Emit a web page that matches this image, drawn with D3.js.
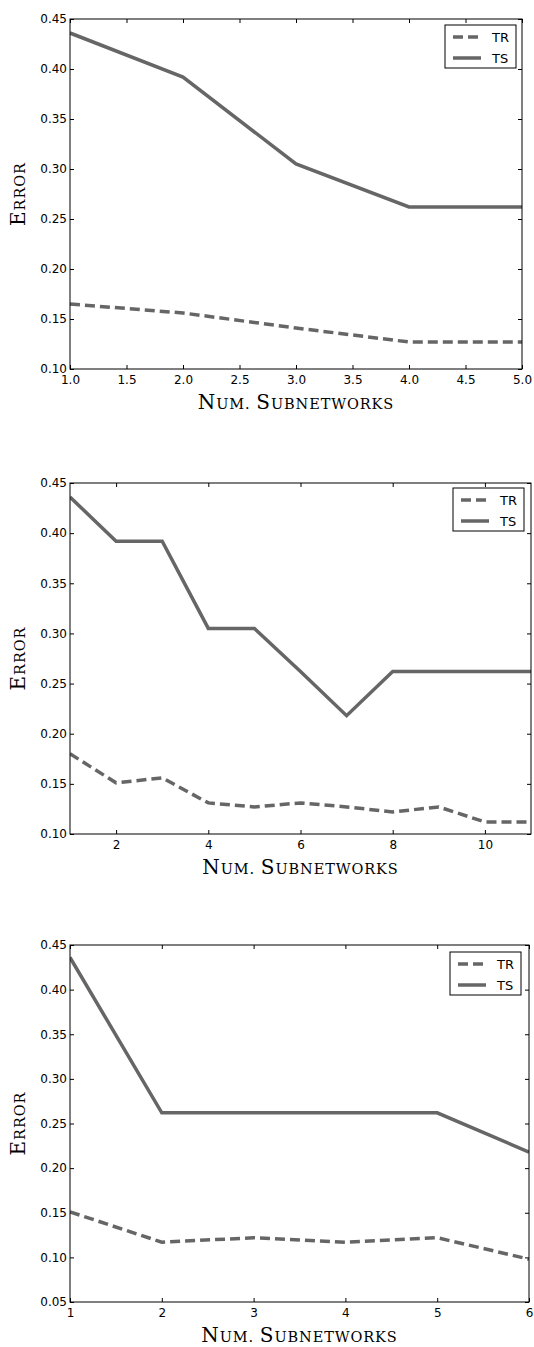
<!DOCTYPE html>
<html>
<head>
<meta charset="utf-8">
<script src="https://cdn.jsdelivr.net/npm/d3@7"></script>
<style>
  body { margin: 0; background: #fff; }
  svg { display: block; }
  .tick text { font-family: "DejaVu Sans", sans-serif; font-size: 12px; fill: #000; }
  .axis-label { font-family: "DejaVu Serif", "Liberation Serif", serif; fill: #000; }
  .legend text { font-family: "DejaVu Sans", sans-serif; font-size: 13px; fill: #000; }
</style>
</head>
<body>
<script>
// Panel 1: 1–5 subnetworks
const x1 = [1, 2, 3, 4, 5];
const tr1 = [0.165, 0.156, 0.141, 0.127, 0.127];
const ts1 = [0.436, 0.392, 0.305, 0.262, 0.262];
const xTicks1 = [1.0, 1.5, 2.0, 2.5, 3.0, 3.5, 4.0, 4.5, 5.0];
const yTicks1 = [0.10, 0.15, 0.20, 0.25, 0.30, 0.35, 0.40, 0.45];

// Panel 2: 1–11 subnetworks
const x2 = [1, 2, 3, 4, 5, 6, 7, 8, 9, 10, 11];
const tr2 = [0.180, 0.151, 0.156, 0.131, 0.127, 0.131, 0.127, 0.122, 0.127, 0.112, 0.112];
const ts2 = [0.436, 0.392, 0.392, 0.305, 0.305, 0.262, 0.218, 0.262, 0.262, 0.262, 0.262];
const xTicks2 = [2, 4, 6, 8, 10];
const yTicks2 = [0.10, 0.15, 0.20, 0.25, 0.30, 0.35, 0.40, 0.45];

// Panel 3: 1–6 subnetworks
const x3 = [1, 2, 3, 4, 5, 6];
const tr3 = [0.151, 0.117, 0.122, 0.117, 0.122, 0.098];
const ts3 = [0.436, 0.262, 0.262, 0.262, 0.262, 0.218];
const xTicks3 = [1, 2, 3, 4, 5, 6];
const yTicks3 = [0.05, 0.10, 0.15, 0.20, 0.25, 0.30, 0.35, 0.40, 0.45];

const seriesNames = ["TR", "TS"];

const W = 534, H = 1347;
const svg = d3.select("body").append("svg").attr("width", W).attr("height", H);

const lineColor = "#666666";
const lineWidth = 3.5;
const dash = "10,5";

// Small-caps title: word initials full size, remaining letters as smaller capitals
function smallCaps(textSel, str) {
  str.split(/(\s+)/).forEach(word => {
    if (!word.trim()) { textSel.append("tspan").attr("font-size", 15).text(" "); return; }
    textSel.append("tspan").attr("font-size", 20).text(word[0].toUpperCase());
    if (word.length > 1) textSel.append("tspan").attr("font-size", 14.5).text(word.slice(1).toUpperCase());
  });
}

function panel(cfg) {
  const { left, right, top, bottom, xs, tr, ts, xDomain, yDomain, xTicks, yTicks, xFmt, legend } = cfg;
  const x = d3.scaleLinear().domain(xDomain).range([left, right]);
  const y = d3.scaleLinear().domain(yDomain).range([bottom, top]);
  const g = svg.append("g");

  const tickLen = 4;
  // bottom axis (labels) and top axis (ticks only), ticks point inward
  g.append("g").attr("transform", `translate(0,${bottom})`)
    .call(d3.axisBottom(x).tickValues(xTicks).tickFormat(xFmt).tickSizeInner(-tickLen).tickSizeOuter(0).tickPadding(6))
    .call(a => a.select(".domain").remove());
  g.append("g").attr("transform", `translate(0,${top})`)
    .call(d3.axisTop(x).tickValues(xTicks).tickFormat("").tickSizeInner(-tickLen).tickSizeOuter(0))
    .call(a => a.select(".domain").remove());
  g.append("g").attr("transform", `translate(${left},0)`)
    .call(d3.axisLeft(y).tickValues(yTicks).tickFormat(d3.format(".2f")).tickSizeInner(-tickLen).tickSizeOuter(0).tickPadding(3))
    .call(a => a.select(".domain").remove());
  g.append("g").attr("transform", `translate(${right},0)`)
    .call(d3.axisRight(y).tickValues(yTicks).tickFormat("").tickSizeInner(-tickLen).tickSizeOuter(0))
    .call(a => a.select(".domain").remove());
  g.selectAll(".tick line").attr("stroke", "#000").attr("stroke-width", 1);

  const clipId = "clip" + top;
  svg.append("clipPath").attr("id", clipId)
    .append("rect").attr("x", left).attr("y", top - 3).attr("width", right - left).attr("height", bottom - top + 6);

  const line = d3.line().x(d => x(d[0])).y(d => y(d[1]));
  const plot = g.append("g").attr("clip-path", `url(#${clipId})`);
  plot.append("path").datum(xs.map((v, i) => [v, tr[i]]))
    .attr("d", line).attr("fill", "none").attr("stroke", lineColor)
    .attr("stroke-width", lineWidth).attr("stroke-dasharray", dash);
  plot.append("path").datum(xs.map((v, i) => [v, ts[i]]))
    .attr("d", line).attr("fill", "none").attr("stroke", lineColor)
    .attr("stroke-width", lineWidth);

  // frame
  g.append("rect").attr("x", left).attr("y", top).attr("width", right - left).attr("height", bottom - top)
    .attr("fill", "none").attr("stroke", "#000").attr("stroke-width", 1);

  // axis titles
  const yl = g.append("text").attr("class", "axis-label")
    .attr("transform", `translate(25,${(top + bottom) / 2}) rotate(-90)`)
    .attr("text-anchor", "middle").attr("letter-spacing", 0.9);
  smallCaps(yl, "Error");
  const xl = g.append("text").attr("class", "axis-label")
    .attr("x", (left + right) / 2).attr("y", bottom + 40)
    .attr("text-anchor", "middle").attr("letter-spacing", 0.9);
  smallCaps(xl, "Num. Subnetworks");

  // legend
  const lg = g.append("g").attr("class", "legend");
  lg.append("rect").attr("x", legend.x).attr("y", legend.y).attr("width", 71).attr("height", 43)
    .attr("fill", "#fff").attr("stroke", "#000").attr("stroke-width", 1);
  seriesNames.forEach((name, i) => {
    const ly = legend.y + 12 + i * 21;
    lg.append("line").attr("x1", legend.x + 8).attr("x2", legend.x + 36).attr("y1", ly).attr("y2", ly)
      .attr("stroke", lineColor).attr("stroke-width", lineWidth)
      .attr("stroke-dasharray", i === 0 ? dash : null);
    lg.append("text").attr("x", legend.x + 47).attr("y", ly + 5).text(name);
  });
}

panel({ left: 70, right: 522, top: 19, bottom: 369, xs: x1, tr: tr1, ts: ts1,
  xDomain: [1, 5], yDomain: [0.10, 0.45], xTicks: xTicks1, yTicks: yTicks1,
  xFmt: d3.format(".1f"), legend: { x: 445, y: 25 } });

panel({ left: 70, right: 531, top: 483, bottom: 834, xs: x2, tr: tr2, ts: ts2,
  xDomain: [1, 11], yDomain: [0.10, 0.45], xTicks: xTicks2, yTicks: yTicks2,
  xFmt: d3.format("d"), legend: { x: 453, y: 488 } });

panel({ left: 70, right: 529, top: 945, bottom: 1302, xs: x3, tr: tr3, ts: ts3,
  xDomain: [1, 6], yDomain: [0.05, 0.45], xTicks: xTicks3, yTicks: yTicks3,
  xFmt: d3.format("d"), legend: { x: 450, y: 952 } });
</script>
</body>
</html>
